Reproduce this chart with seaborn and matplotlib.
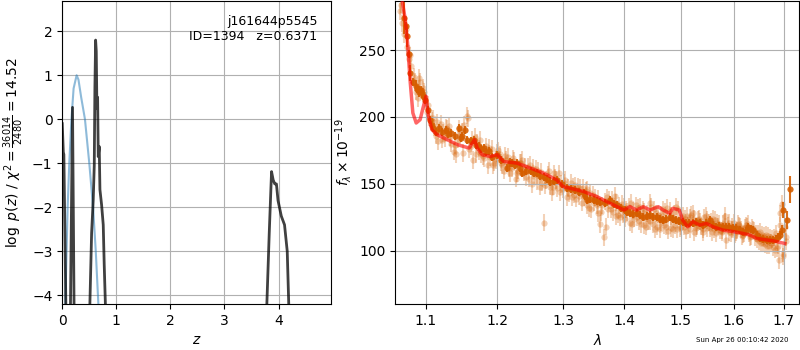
import matplotlib
matplotlib.use("Agg")
import matplotlib.pyplot as plt
import matplotlib.ticker as mticker
import numpy as np
import pandas as pd
import seaborn as sns

# ---- left panel: redshift probability ----
z_pz = [0.0, 0.02, 0.03, 0.07, 0.10, 0.15, 0.19, 0.22, 0.30, 0.505,
        0.543, 0.573, 0.592, 0.604, 0.617, 0.629, 0.641, 0.654, 0.666, 0.684,
        0.697, 0.728, 0.758, 0.776, 0.805, 2.0, 3.775, 3.827, 3.87, 3.90,
        3.93, 3.96, 3.99, 4.05, 4.11, 4.16, 4.195, 4.6, 4.97]
log_pz = [-0.1, -0.75, -0.8, -4.5, -8.0, -4.5, 0.27, -4.5, -9.0, -4.5,
          -2.59, -1.83, -1.05, 0.73, 1.8, 1.55, 0.25, 0.5, -0.85, -0.62,
          -1.6, -1.95, -2.4, -3.3, -4.5, -12.0, -4.5, -2.6, -1.19, -1.38,
          -1.47, -1.47, -1.85, -2.2, -2.4, -3.0, -4.5, -10.0, -12.0]

z_prior = [0.0, 0.04, 0.055, 0.06, 0.08, 0.10, 0.13, 0.17, 0.21, 0.266,
           0.30, 0.35, 0.42, 0.50, 0.57, 0.62, 0.66, 0.68, 1.0]
log_prior = [-8.0, -6.0, -4.5, -4.0, -3.0, -2.0, -1.0, 0.0, 0.7, 1.0,
             0.9, 0.5, 0.0, -1.0, -2.0, -3.0, -4.0, -4.5, -9.0]

# ---- right panel: 1D spectrum (G141), three beams ----
lam_a = [1.066, 1.072, 1.078, 1.084, 1.090, 1.096, 1.102, 1.108, 1.114, 1.120,
         1.126, 1.132, 1.138, 1.144, 1.150, 1.156, 1.162, 1.168, 1.174, 1.180,
         1.186, 1.192, 1.198, 1.204, 1.210, 1.216, 1.222, 1.228, 1.234, 1.240,
         1.246, 1.252, 1.258, 1.264, 1.270, 1.276, 1.282, 1.288, 1.294, 1.300,
         1.306, 1.312, 1.318, 1.324, 1.330, 1.336, 1.342, 1.348, 1.354, 1.360,
         1.366, 1.372, 1.378, 1.384, 1.390, 1.396, 1.402, 1.408, 1.414, 1.420,
         1.426, 1.432, 1.438, 1.444, 1.450, 1.456, 1.462, 1.468, 1.474, 1.480,
         1.486, 1.492, 1.498, 1.504, 1.510, 1.516, 1.522, 1.528, 1.534, 1.540,
         1.546, 1.552, 1.558, 1.564, 1.570, 1.576, 1.582, 1.588, 1.594, 1.600,
         1.606, 1.612, 1.618, 1.624, 1.630, 1.636, 1.642, 1.648, 1.654, 1.660,
         1.666, 1.672, 1.678, 1.684, 1.690, 1.696, 1.702]
flux_a = [279, 262, 243, 230, 214, 222, 204, 197, 186, 195,
          184, 193, 174, 183, 189, 201, 178, 185, 174, 171,
          164, 176, 168, 172, 160, 170, 162, 154, 166, 159,
          163, 150, 161, 148, 121, 157, 144, 155, 158, 146,
          140, 151, 142, 148, 136, 145, 132, 142, 134, 120,
          110, 140, 131, 141, 127, 135, 124, 133, 120, 134,
          122, 131, 118, 136, 120, 128, 116, 131, 118, 130,
          116, 133, 117, 126, 115, 125, 128, 117, 124, 116,
          126, 121, 114, 123, 118, 114, 126, 119, 113, 121,
          115, 118, 112, 119, 113, 117, 110, 113, 106, 111,
          104, 110, 103, 113, 93, 135, 118]

lam_b = [1.069, 1.075, 1.081, 1.087, 1.093, 1.099, 1.105, 1.111, 1.117, 1.123,
         1.129, 1.135, 1.141, 1.147, 1.153, 1.159, 1.165, 1.171, 1.177, 1.183,
         1.189, 1.195, 1.201, 1.207, 1.213, 1.219, 1.225, 1.231, 1.237, 1.243,
         1.249, 1.255, 1.261, 1.267, 1.273, 1.279, 1.285, 1.291, 1.297, 1.303,
         1.309, 1.315, 1.321, 1.327, 1.333, 1.339, 1.345, 1.351, 1.357, 1.363,
         1.369, 1.375, 1.381, 1.387, 1.393, 1.399, 1.405, 1.411, 1.417, 1.423,
         1.429, 1.435, 1.441, 1.447, 1.453, 1.459, 1.465, 1.471, 1.477, 1.483,
         1.489, 1.495, 1.501, 1.507, 1.513, 1.519, 1.525, 1.531, 1.537, 1.543,
         1.549, 1.555, 1.561, 1.567, 1.573, 1.579, 1.585, 1.591, 1.597, 1.603,
         1.609, 1.615, 1.621, 1.627, 1.633, 1.639, 1.645, 1.651, 1.657, 1.663,
         1.669, 1.675, 1.681, 1.687, 1.693, 1.699, 1.705]
flux_b = [270, 252, 238, 219, 226, 212, 200, 192, 182, 188,
          191, 180, 172, 186, 194, 176, 168, 181, 172, 178,
          170, 166, 175, 164, 168, 158, 167, 160, 168, 155,
          164, 156, 160, 151, 153, 148, 158, 147, 150, 153,
          143, 148, 139, 147, 140, 146, 131, 140, 128, 134,
          118, 138, 129, 136, 125, 133, 129, 136, 124, 132,
          120, 129, 122, 133, 116, 127, 121, 129, 115, 126,
          119, 131, 118, 124, 119, 127, 114, 123, 118, 125,
          117, 122, 116, 121, 115, 120, 108, 121, 116, 114,
          119, 111, 117, 120, 111, 115, 109, 114, 106, 112,
          104, 109, 101, 104, 128, 98, 110]

lam_c = [1.0675, 1.0735, 1.0795, 1.0855, 1.0915, 1.0975, 1.1035, 1.1095, 1.1155, 1.1215,
         1.1275, 1.1335, 1.1395, 1.1455, 1.1515, 1.1575, 1.1635, 1.1695, 1.1755, 1.1815,
         1.1875, 1.1935, 1.1995, 1.2055, 1.2115, 1.2175, 1.2235, 1.2295, 1.2355, 1.2415,
         1.2475, 1.2535, 1.2595, 1.2655, 1.2715, 1.2775, 1.2835, 1.2895, 1.2955, 1.3015,
         1.3075, 1.3135, 1.3195, 1.3255, 1.3315, 1.3375, 1.3435, 1.3495, 1.3555, 1.3615,
         1.3675, 1.3735, 1.3795, 1.3855, 1.3915, 1.3975, 1.4035, 1.4095, 1.4155, 1.4215,
         1.4275, 1.4335, 1.4395, 1.4455, 1.4515, 1.4575, 1.4635, 1.4695, 1.4755, 1.4815,
         1.4875, 1.4935, 1.4995, 1.5055, 1.5115, 1.5175, 1.5235, 1.5295, 1.5355, 1.5415,
         1.5475, 1.5535, 1.5595, 1.5655, 1.5715, 1.5775, 1.5835, 1.5895, 1.5955, 1.6015,
         1.6075, 1.6135, 1.6195, 1.6255, 1.6315, 1.6375, 1.6435, 1.6495, 1.6555, 1.6615,
         1.6675, 1.6735, 1.6795, 1.6855, 1.6915, 1.6975, 1.7035]
flux_c = [284, 266, 246, 226, 229, 219, 209, 199, 196, 183,
          192, 185, 179, 191, 173, 199, 183, 172, 183, 169,
          177, 164, 173, 166, 171, 162, 169, 158, 166, 163,
          154, 162, 152, 159, 149, 160, 148, 153, 144, 151,
          147, 140, 149, 141, 147, 134, 143, 136, 139, 129,
          137, 131, 138, 126, 134, 127, 131, 121, 130, 125,
          133, 119, 128, 122, 131, 118, 127, 119, 132, 117,
          128, 116, 125, 118, 126, 116, 124, 118, 122, 114,
          123, 117, 124, 113, 120, 115, 122, 114, 118, 112,
          120, 116, 113, 118, 110, 116, 113, 107, 112, 105,
          111, 106, 110, 102, 119, 96, 107]
light_err = 6.5

# binned spectrum (two interleaved sets)
lam_bin = [1.071, 1.0757, 1.0795, 1.0865, 1.091, 1.0956, 1.099, 1.106, 1.110, 1.1176,
           1.127, 1.134, 1.1457, 1.150, 1.1572, 1.1665, 1.1735, 1.1805, 1.1875, 1.199,
           1.214, 1.222, 1.2293, 1.2366, 1.2495, 1.2596, 1.2697, 1.2798, 1.2899, 1.3055,
           1.319, 1.333, 1.3383, 1.349, 1.360, 1.3765, 1.3882, 1.4012, 1.410, 1.4215,
           1.4331, 1.4448, 1.4564, 1.468, 1.4797, 1.4913, 1.5031, 1.5157, 1.5283, 1.5409,
           1.5535, 1.566, 1.5786, 1.5912, 1.6041, 1.6176, 1.6277, 1.6378, 1.6514, 1.6649,
           1.6784, 1.688, 1.6953, 1.6986, 1.707, 1.7125]
flux_bin = [274, 260.5, 233, 223.5, 219, 218, 213, 198, 191.8, 191.8,
            190.5, 188, 191.8, 185.5, 183, 183, 178, 176.8, 174.3, 171.8,
            161.8, 165.5, 165.5, 158, 159.3, 158, 155.5, 151.8, 153, 146.8,
            145.5, 143, 138, 138, 136.8, 138, 134.3, 130.5, 128, 128,
            125.5, 126.8, 125.5, 123, 125.5, 123, 121.8, 120.5, 121.8, 119.3,
            123, 118, 118, 118, 116.8, 114.3, 118, 115.5, 109.3, 108,
            108, 110.5, 115.5, 130.5, 123, 146]
err_bin = [12, 8, 6, 4, 4, 4, 3, 3, 3, 3,
           3, 3, 3, 3, 3, 3, 3, 3, 3, 3,
           3, 3, 3, 3, 3, 3, 3, 3, 3, 3,
           3, 3, 3, 3, 3, 3, 3, 3, 3, 3,
           3, 3, 3, 3, 3, 3, 3, 3, 3, 3,
           3, 3, 3, 3, 3, 3, 3, 3, 3, 3,
           3, 3, 4, 6, 7, 10]

lam_bin2 = [1.0735, 1.0775, 1.083, 1.089, 1.0935, 1.097, 1.1025, 1.108, 1.114, 1.122,
            1.1305, 1.140, 1.148, 1.1535, 1.162, 1.170, 1.177, 1.184, 1.193, 1.2055,
            1.218, 1.2255, 1.233, 1.243, 1.2545, 1.2645, 1.2748, 1.285, 1.2975, 1.312,
            1.326, 1.3355, 1.3435, 1.3545, 1.368, 1.3825, 1.395, 1.4055, 1.416, 1.427,
            1.439, 1.4505, 1.4622, 1.4738, 1.4855, 1.497, 1.509, 1.522, 1.5346, 1.547,
            1.5597, 1.572, 1.585, 1.5976, 1.611, 1.6226, 1.633, 1.6446, 1.658, 1.6716,
            1.683, 1.6915]
flux_bin2 = [268, 247, 226, 221, 220, 216, 205, 194, 189, 189,
             187, 186, 184, 190, 182, 179, 176, 174, 170, 168,
             166, 164, 162, 160, 158, 156, 154, 152, 150, 146,
             144, 141, 139, 137.5, 136, 135, 132, 129, 127.5, 126.5,
             126, 125.5, 124, 123.5, 124, 122.5, 121, 121, 120.5, 121,
             119.5, 118.5, 117.5, 117, 115.5, 115, 116.5, 112, 108.5, 108,
             109, 112]
err_bin2 = 3.0

# best-fit model
lam_model = [1.0687, 1.073, 1.076, 1.0796, 1.083, 1.0874, 1.0926, 1.097, 1.1005, 1.1037,
             1.1084, 1.1153, 1.1293, 1.1433, 1.1595, 1.1674, 1.1712, 1.1781, 1.1898, 1.200,
             1.2091, 1.2293, 1.2495, 1.2697, 1.2899, 1.300, 1.3109, 1.3328, 1.3546, 1.3765,
             1.400, 1.4099, 1.4215, 1.4331, 1.4448, 1.4593, 1.468, 1.4797, 1.4855, 1.4971,
             1.5031, 1.5126, 1.522, 1.5346, 1.5472, 1.5597, 1.5786, 1.600, 1.6176, 1.6311,
             1.6446, 1.6581, 1.6784, 1.7018]
flux_model = [288, 273, 255.5, 225.5, 203, 195.5, 198, 208, 215.5, 200.5,
              190.5, 186.8, 183, 179.3, 176.8, 183, 176.8, 171.8, 170.5, 171.8,
              166.8, 165.5, 161.8, 158, 153, 148, 146.8, 144.3, 140.5, 135.5,
              130.5, 133, 130.5, 133, 130.5, 133, 130.5, 128, 131.8, 130.5,
              123, 118, 121.8, 119.3, 120.5, 118, 115.5, 114.3, 113, 111.8,
              109.3, 108.5, 107.5, 105.5]

target = "j161644p5545"
obj_id = 1394
z_best = 0.6371
chi2, dof = 36014, 2480
timestamp = "Sun Apr 26 00:10:42 2020"
G141 = (0.8352941176470589, 0.3686274509803922, 0.0)

fig = plt.figure(figsize=(8, 3.5), dpi=100)
ax_pz = fig.add_axes([0.0778, 0.1314, 0.336, 0.866])
ax_sp = fig.add_axes([0.494, 0.1314, 0.505, 0.866])

# p(z)
sns.lineplot(x=z_prior, y=log_prior, ax=ax_pz, color="#1f77b4", alpha=0.5,
             linewidth=1.5, sort=False, estimator=None)
sns.lineplot(x=z_pz, y=log_pz, ax=ax_pz, color="k", alpha=0.75,
             linewidth=2, sort=False, estimator=None)
ax_pz.set_xlim(0, 4.97)
ax_pz.set_ylim(-4.2, 2.69)
ax_pz.xaxis.set_major_locator(mticker.MultipleLocator(1))
ax_pz.yaxis.set_major_locator(mticker.MultipleLocator(1))
ax_pz.grid(True)
ax_pz.set_xlabel(r"$z$")
ax_pz.set_ylabel(r"$\log\ p(z)$ / $\chi^2=\frac{%d}{%d}=%.2f$" % (chi2, dof, chi2 / dof))
ax_pz.text(0.95, 0.955, "{0}\nID={1:<5d}  z={2:.4f}".format(target, obj_id, z_best),
           ha="right", va="top", transform=ax_pz.transAxes, fontsize=9)

# spectrum
for lam, flx in [(lam_a, flux_a), (lam_b, flux_b), (lam_c, flux_c)]:
    ax_sp.errorbar(lam, flx, yerr=light_err, fmt="o", ms=4.5, mew=0, color=G141,
                   alpha=0.28, elinewidth=1.5, zorder=1)
ax_sp.errorbar(lam_bin, flux_bin, yerr=err_bin, fmt="o", ms=4.5, mew=0, color=G141,
               alpha=0.9, elinewidth=1.5, zorder=2)
ax_sp.errorbar(lam_bin2, flux_bin2, yerr=err_bin2, fmt="o", ms=4.5, mew=0, color=G141,
               alpha=0.9, elinewidth=1.5, zorder=2)
sns.lineplot(x=lam_model, y=flux_model, ax=ax_sp, color="r", alpha=0.6,
             linewidth=2.5, sort=False, estimator=None, zorder=3)

ax_sp.set_xscale("log")
ax_sp.set_xlim(1.06, 1.732)
ax_sp.set_ylim(60.3, 286.7)
xt = [1.1, 1.2, 1.3, 1.4, 1.5, 1.6, 1.7]
ax_sp.xaxis.set_major_locator(mticker.FixedLocator(xt))
ax_sp.xaxis.set_major_formatter(mticker.FixedFormatter([f"{v:.1f}" for v in xt]))
ax_sp.xaxis.set_minor_locator(mticker.NullLocator())
ax_sp.yaxis.set_major_locator(mticker.MultipleLocator(50))
ax_sp.grid(True)
ax_sp.set_xlabel(r"$\lambda$")
ax_sp.set_ylabel(r"$f_\lambda\times10^{-19}$")

fig.text(0.985, 0.02, timestamp, ha="right", va="bottom", fontsize=5)

fig.savefig("out.png", dpi=100)
